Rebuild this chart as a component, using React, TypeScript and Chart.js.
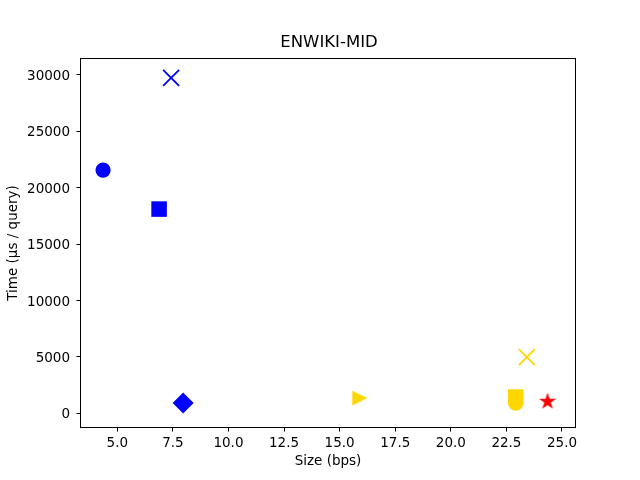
import React, { useEffect, useRef } from "react";
import { Chart, registerables } from "chart.js";

Chart.register(...registerables);

// ---- data ----
const CHART_TITLE = "ENWIKI-MID";
const X_LABEL = "Size (bps)";
const Y_LABEL = "Time (μs / query)";
const POINT_LABELS = [
  "blue circle",
  "blue x",
  "blue square",
  "blue diamond",
  "gold triangle",
  "gold x",
  "gold square",
  "gold circle",
  "red star",
];
const SIZE_BPS = [4.36, 7.42, 6.88, 7.96, 15.9, 23.42, 22.92, 22.92, 24.35];
const TIME_US = [21570, 29750, 18110, 910, 1350, 4990, 1440, 910, 1090];
const X_TICKS = [5, 7.5, 10, 12.5, 15, 17.5, 20, 22.5, 25];
const Y_TICKS = [0, 5000, 10000, 15000, 20000, 25000, 30000];

// ---- styles ----
const BLUE = "#0000ff";
const GOLD = "#ffd700";
const RED = "#ff0000";
const MARKERS = ["circle", "x", "square", "diamond", "triangleRight", "x", "square", "circle", "star"];
const COLORS = [BLUE, BLUE, BLUE, BLUE, GOLD, GOLD, GOLD, GOLD, RED];
const FONT = "'DejaVu Sans', sans-serif";

function makeTriangle(color: string): HTMLCanvasElement {
  const c = document.createElement("canvas");
  c.width = 16;
  c.height = 16;
  const ctx = c.getContext("2d")!;
  ctx.fillStyle = color;
  ctx.beginPath();
  ctx.moveTo(0.5, 0.5);
  ctx.lineTo(15.5, 8);
  ctx.lineTo(0.5, 15.5);
  ctx.closePath();
  ctx.fill();
  return c;
}

function makeStar(color: string): HTMLCanvasElement {
  const c = document.createElement("canvas");
  c.width = 20;
  c.height = 20;
  const ctx = c.getContext("2d")!;
  const R = 9;
  const r = R * 0.381966;
  const cx = 10;
  const cy = 10.5;
  ctx.fillStyle = color;
  ctx.beginPath();
  for (let i = 0; i < 10; i++) {
    const ang = -Math.PI / 2 + (i * Math.PI) / 5;
    const rad = i % 2 === 0 ? R : r;
    const px = cx + Math.cos(ang) * rad;
    const py = cy + Math.sin(ang) * rad;
    if (i === 0) ctx.moveTo(px, py);
    else ctx.lineTo(px, py);
  }
  ctx.closePath();
  ctx.fill();
  return c;
}

function styleFor(marker: string, color: string): any {
  switch (marker) {
    case "circle":
      return { pointStyle: "circle", pointRadius: 7.6, backgroundColor: color, borderColor: color, borderWidth: 0 };
    case "square":
      return { pointStyle: "rect", pointRadius: 11, backgroundColor: color, borderColor: color, borderWidth: 0 };
    case "diamond":
      return { pointStyle: "rectRot", pointRadius: 10.5, backgroundColor: color, borderColor: color, borderWidth: 0 };
    case "x":
      return { pointStyle: "crossRot", pointRadius: 11.3, backgroundColor: color, borderColor: color, borderWidth: 1.8 };
    case "triangleRight":
      return { pointStyle: makeTriangle(color), pointRadius: 8, backgroundColor: color, borderColor: color, borderWidth: 0 };
    case "star":
      return { pointStyle: makeStar(color), pointRadius: 9, backgroundColor: color, borderColor: color, borderWidth: 0 };
  }
  return {};
}

const framePlugin = {
  id: "frame",
  afterDraw(chart: any) {
    const { ctx, chartArea } = chart;
    ctx.save();
    ctx.strokeStyle = "#000";
    ctx.lineWidth = 1;
    ctx.strokeRect(
      Math.round(chartArea.left) + 0.5,
      Math.round(chartArea.top) + 0.5,
      Math.round(chartArea.right - chartArea.left) - 1,
      Math.round(chartArea.bottom - chartArea.top) - 1
    );
    // title centred over the plot area (matplotlib style)
    ctx.fillStyle = "#000";
    ctx.font = `16.5px ${FONT}`;
    ctx.textAlign = "center";
    ctx.textBaseline = "middle";
    ctx.fillText(CHART_TITLE, (chartArea.left + chartArea.right) / 2 + 1, 42.4);
    ctx.restore();
  },
};

export default function App() {
  const ref = useRef<HTMLCanvasElement | null>(null);

  useEffect(() => {
    if (!ref.current) return;
    Chart.defaults.font.family = FONT;
    Chart.defaults.color = "#000";

    const datasets = SIZE_BPS.map((x, i) => ({
      label: POINT_LABELS[i],
      data: [{ x, y: TIME_US[i] }],
      ...styleFor(MARKERS[i], COLORS[i]),
      pointHoverRadius: 0,
    }));

    const tickFont = { size: 13.5, family: FONT };

    const chart = new Chart(ref.current, {
      type: "scatter",
      data: { datasets },
      options: {
        animation: false,
        responsive: false,
        events: [],
        layout: { padding: { left: 0, right: 64, top: 58, bottom: 0 } },
        plugins: {
          legend: { display: false },
          tooltip: { enabled: false },
          title: { display: false },
        },
        scales: {
          x: {
            type: "linear",
            min: 3.3225,
            max: 25.63,
            afterBuildTicks: (scale: any) => {
              scale.ticks = X_TICKS.map((value) => ({ value }));
            },
            afterFit: (scale: any) => {
              scale.height = 52;
            },
            ticks: {
              font: tickFont,
              color: "#000",
              padding: 4,
              maxRotation: 0,
              autoSkip: false,
              callback: (v: any) => Number(v).toFixed(1),
            },
            grid: {
              display: true,
              drawOnChartArea: false,
              drawTicks: true,
              tickLength: 3.5,
              tickColor: "#000",
              tickWidth: 1,
            },
            border: { display: false },
            title: {
              display: true,
              text: X_LABEL,
              color: "#000",
              font: tickFont,
              padding: { top: 0, bottom: 10 },
            },
          },
          y: {
            type: "linear",
            min: -1304,
            max: 31507,
            afterBuildTicks: (scale: any) => {
              scale.ticks = Y_TICKS.map((value) => ({ value }));
            },
            afterFit: (scale: any) => {
              scale.width = 80;
            },
            ticks: {
              font: tickFont,
              color: "#000",
              padding: 6.5,
              labelOffset: 1.5,
              autoSkip: false,
              callback: (v: any) => String(v),
            },
            grid: {
              display: true,
              drawOnChartArea: false,
              drawTicks: true,
              tickLength: 3.5,
              tickColor: "#000",
              tickWidth: 1,
            },
            border: { display: false },
            title: {
              display: true,
              text: Y_LABEL,
              color: "#000",
              font: tickFont,
              padding: { top: 5, bottom: 0 },
            },
          },
        },
      },
      plugins: [framePlugin],
    } as any);

    return () => chart.destroy();
  }, []);

  return (
    <div style={{ position: "fixed", left: 0, top: 0, width: 640, height: 480, background: "#fff" }}>
      <canvas ref={ref} width={640} height={480} style={{ display: "block", width: 640, height: 480 }} />
    </div>
  );
}
